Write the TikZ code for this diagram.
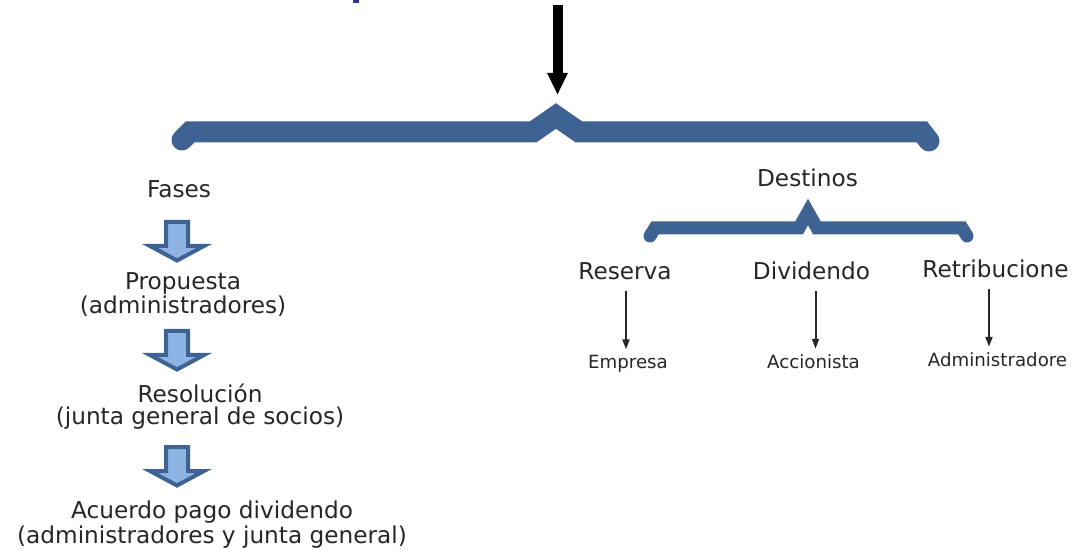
\documentclass[tikz,border=0pt]{standalone}
\usepackage{fontspec}
\setmainfont{DejaVu Sans}
\usetikzlibrary{arrows.meta,positioning}

\definecolor{braceblue}{RGB}{62,99,146}
\definecolor{arrowfill}{RGB}{142,180,227}
\definecolor{textgray}{RGB}{38,38,38}
\definecolor{titleblue}{RGB}{50,45,160}

\begin{document}
\begin{tikzpicture}[x=0.5pt,y=-0.5pt,
    lbl/.style={text=textgray, font=\fontsize{11.6}{11}\selectfont, align=center, inner sep=2.5pt, anchor=base},
    sublbl/.style={lbl, font=\fontsize{9.1}{11}\selectfont},
    brace/.style={draw=braceblue, line cap=round, line join=miter},
    thinarrow/.style={draw=textgray, line width=1pt, -{Triangle[length=5pt,width=3.5pt]}, shorten <=2.5pt, shorten >=0pt}]
    \useasboundingbox (0,0) rectangle (1091,550);

    % cut-off title
    \fill[titleblue] (353,0) rectangle (359,3);

    % Main arrow and brace
    \coordinate (arrtop) at (557.5,5);
    \coordinate (arrtip) at (557.5,95);
    \draw[line width=5pt, -{Triangle[width=9.5pt, length=11pt]}] (arrtop) -- (arrtip);
    \draw[brace, line width=10.5pt] (182,140) -- (190,132) -- (533,132) -- (556,116) -- (579,132) -- (922,132) -- (929,141);

    % Fases (base anchor = last line)
    \node[lbl] (fases) at (179,198) {Fases};
    \node[lbl] (prop) at (183,314) {Propuesta\\(administradores)};
    \node[lbl] (reso) at (200,424) {Resolución\\(junta general de socios)};
    \node[lbl] (acue) at (212,543) {Acuerdo pago dividendo\\(administradores y junta general)};
    \foreach \y in {220,329,445}
        \draw[draw=braceblue, fill=arrowfill, line width=2pt, line join=miter]
            (166,\y+2) -- (188,\y+2) -- (188,\y+26) -- (204,\y+26) -- (177,\y+40.5)
            -- (150,\y+26) -- (166,\y+26) -- cycle;

    % Destinos
    \node[lbl] (dest) at (807.5,187) {Destinos};
    \draw[brace, line width=6.5pt] (650,236) -- (655,228) -- (799,228) -- (808,212) -- (817,228) -- (962,228) -- (967,236);
    \node[lbl] (res) at (625,280) {Reserva};
    \node[lbl] (div) at (811.5,280) {Dividendo};
    \node[lbl] (ret) at (995.5,278) {Retribucione};
    \node[sublbl] (emp) at (628,368) {Empresa};
    \node[sublbl] (acc) at (813.5,368) {Accionista};
    \node[sublbl] (adm) at (997.5,366) {Administradore};
    \draw[thinarrow] ([xshift=0.5pt]res.south) -- ([xshift=0.5pt]res.south |- emp.north);
    \draw[thinarrow] ([xshift=2pt]div.south) -- ([xshift=2pt]div.south |- acc.north);
    \draw[thinarrow] ([xshift=-3.25pt]ret.south) -- ([xshift=-3.25pt]ret.south |- adm.north);
\end{tikzpicture}
\end{document}
